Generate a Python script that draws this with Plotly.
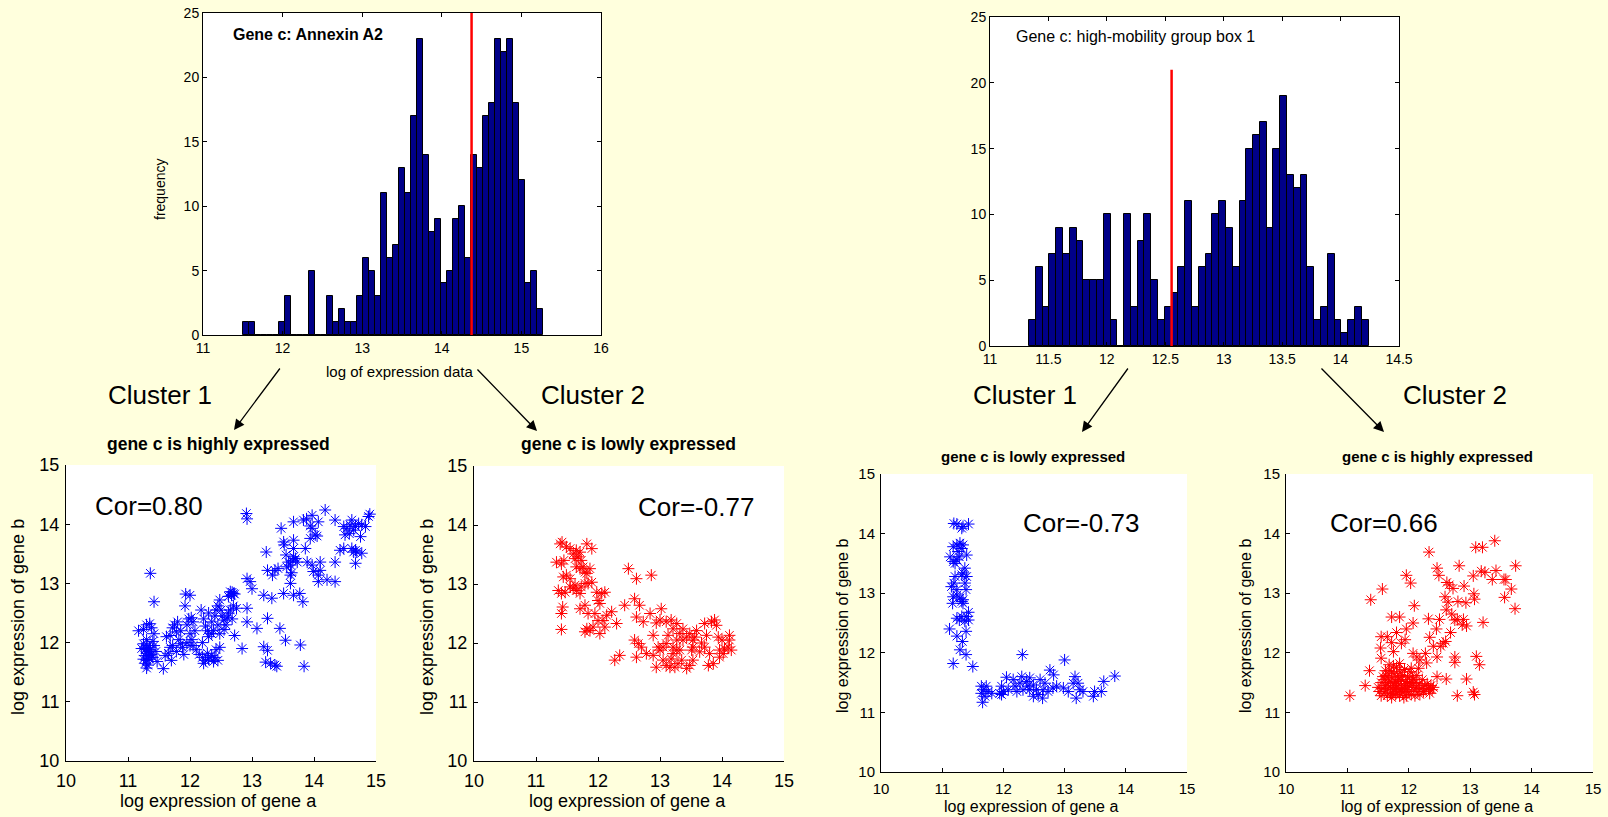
import plotly.graph_objects as go

# ---------------- data ----------------
hist1_start = 11.504
hist1_binw = 0.07546
hist1_counts = [1, 1, 0, 0, 0, 0, 1, 3, 0, 0,
                0, 5, 0, 0, 3, 1, 2, 1, 1, 3,
                6, 5, 3, 11, 6, 7, 13, 11, 17, 23,
                14, 8, 9, 4, 5, 9, 10, 6, 14, 13,
                17, 18, 23, 22, 23, 18, 12, 4, 5, 2]
hist1_split = 14.374

hist2_start = 11.334
hist2_binw = 0.0581
hist2_counts = [2, 6, 3, 7, 9, 7, 9, 8, 5, 5,
                5, 10, 2, 0, 10, 3, 8, 10, 5, 2,
                3, 4, 6, 11, 3, 6, 7, 10, 11, 9,
                6, 11, 15, 16, 17, 9, 15, 19, 13, 12,
                13, 6, 2, 3, 7, 2, 1, 2, 3, 2]
hist2_split = 12.554
hist2_split_top = 21

hist_titles = ["Gene c: Annexin A2", "Gene c: high-mobility group box 1"]
scatter_titles = ["gene c is highly expressed", "gene c is lowly expressed",
                  "gene c is lowly expressed", "gene c is highly expressed"]
cor_labels = ["Cor=0.80", "Cor=-0.77", "Cor=-0.73", "Cor=0.66"]
cluster_labels = ["Cluster 1", "Cluster 2", "Cluster 1", "Cluster 2"]

scatter1_pts = [
    (12.91, 14.18), (12.92, 14.09), (14.18, 14.24), (14.90, 14.17), (14.88, 14.13), (13.97, 14.15),
    (13.88, 14.09), (13.83, 14.07), (13.67, 14.04), (14.07, 14.04), (14.34, 14.07), (13.94, 13.97),
    (13.97, 13.93), (14.61, 14.07), (14.58, 13.99), (14.53, 13.93), (14.48, 13.96), (14.72, 14.01),
    (14.83, 13.96), (14.77, 13.99), (14.67, 13.96), (14.64, 13.90), (14.57, 13.84), (14.50, 13.82),
    (14.75, 13.79), (13.47, 13.93), (14.02, 13.82), (14.05, 13.80), (13.94, 13.76), (13.67, 13.73),
    (13.51, 13.70), (13.52, 13.65), (13.86, 13.59), (13.67, 13.59), (14.42, 13.56), (14.48, 13.59),
    (14.61, 13.59), (14.67, 13.56), (14.69, 13.53), (14.64, 13.53), (14.77, 13.51), (13.23, 13.53),
    (13.55, 13.48), (13.67, 13.45), (13.70, 13.42), (13.66, 13.39), (13.73, 13.36), (13.59, 13.36),
    (13.56, 13.28), (13.62, 13.31), (13.89, 13.36), (13.97, 13.31), (14.10, 13.36), (14.34, 13.36),
    (14.67, 13.34), (13.42, 13.25), (13.37, 13.22), (13.25, 13.22), (13.33, 13.14), (13.62, 13.14),
    (13.64, 13.18), (13.99, 13.20), (14.10, 13.22), (14.07, 13.14), (12.92, 13.08), (12.97, 13.03),
    (13.00, 12.91), (13.62, 13.00), (14.07, 13.03), (14.21, 13.06), (14.34, 13.03), (13.19, 12.80),
    (13.32, 12.75), (13.51, 12.83), (13.67, 12.80), (13.77, 12.83), (13.82, 12.69), (12.65, 12.86),
    (12.70, 12.83), (12.67, 12.80), (12.92, 12.58), (12.92, 12.35), (13.25, 12.41), (13.08, 12.24),
    (13.45, 12.24), (13.54, 12.04), (13.78, 11.96), (12.84, 11.90), (13.19, 11.93), (13.25, 11.87),
    (13.22, 11.67), (13.30, 11.65), (13.37, 11.62), (13.40, 11.60), (13.84, 11.60),
    (11.17, 12.20), (11.25, 12.22), (11.30, 12.30), (11.35, 12.32), (11.38, 12.25), (11.42, 12.15),
    (11.30, 12.05), (11.25, 11.98), (11.32, 11.95), (11.28, 11.88), (11.33, 11.85), (11.36, 11.88),
    (11.30, 11.82), (11.27, 11.78), (11.33, 11.78), (11.38, 11.80), (11.25, 11.72), (11.30, 11.70),
    (11.35, 11.72), (11.40, 11.75), (11.28, 11.65), (11.32, 11.62), (11.30, 11.57), (11.42, 11.95),
    (11.45, 11.85), (11.47, 11.68), (11.40, 12.02), (11.22, 11.90), (11.35, 11.92), (11.30, 11.90),
    (11.36, 13.17), (11.42, 12.69),
    (11.57, 11.56), (11.60, 11.78), (11.65, 11.82), (11.70, 11.70), (11.62, 12.10), (11.68, 12.12),
    (11.72, 12.25), (11.75, 12.30), (11.80, 12.35), (11.78, 12.18), (11.82, 12.05), (11.85, 11.98),
    (11.88, 11.92), (11.90, 11.80), (11.85, 12.20), (11.92, 12.62), (11.93, 12.82), (12.00, 12.80),
    (11.95, 12.30), (11.98, 12.40), (12.02, 12.42), (12.05, 12.35), (12.00, 12.15), (12.03, 12.05),
    (12.05, 11.95), (12.00, 11.95), (11.95, 12.00), (12.08, 12.20), (12.10, 11.88), (11.72, 11.95),
    (11.78, 11.85), (11.68, 11.92),
    (12.18, 12.55), (12.22, 12.40), (12.25, 12.28), (12.28, 12.20), (12.30, 12.10), (12.20, 12.00),
    (12.15, 11.80), (12.20, 11.75), (12.25, 11.70), (12.30, 11.72), (12.35, 11.78), (12.40, 11.75),
    (12.28, 11.82), (12.22, 11.65), (12.38, 11.68), (12.45, 11.70), (12.42, 11.88), (12.48, 11.92),
    (12.35, 12.35), (12.40, 12.45), (12.42, 12.55), (12.45, 12.62), (12.48, 12.72), (12.50, 12.55),
    (12.52, 12.45), (12.55, 12.38), (12.58, 12.30), (12.60, 12.42), (12.62, 12.50), (12.65, 12.55),
    (12.68, 12.40), (12.55, 12.22), (12.48, 12.15), (12.38, 12.20), (12.45, 12.30), (12.30, 12.50),
    (12.35, 12.15), (12.70, 12.62), (12.72, 12.12), (12.62, 12.78), (12.68, 12.85), (12.72, 12.82),
    (12.75, 12.58),
]

scatter2_pts = [
    (11.39, 13.68), (11.42, 13.71), (11.33, 13.37), (11.41, 13.34), (11.45, 13.40), (11.49, 13.63),
    (11.55, 13.60), (11.60, 13.51), (11.65, 13.57), (11.71, 13.54), (11.68, 13.46), (11.63, 13.43),
    (11.73, 13.40), (11.76, 13.29), (11.79, 13.20), (11.82, 13.18), (11.82, 13.68), (11.90, 13.60),
    (11.87, 13.26), (11.71, 13.26), (11.65, 13.29),
    (11.36, 12.89), (11.41, 12.84), (11.47, 12.86), (11.55, 12.95), (11.60, 12.92), (11.63, 12.98),
    (11.65, 12.89), (11.71, 12.84), (11.73, 12.95), (11.79, 13.01), (11.84, 13.01), (11.90, 13.03),
    (11.44, 13.12), (11.49, 13.15), (11.55, 13.09),
    (11.43, 12.61), (11.41, 12.50), (11.41, 12.23), (11.71, 12.58), (11.79, 12.64), (11.84, 12.50),
    (11.82, 12.24), (11.87, 12.21), (11.79, 12.19),
    (11.98, 12.86), (12.06, 12.84), (12.11, 12.86), (12.00, 12.72), (12.03, 12.67), (11.95, 12.50),
    (12.00, 12.38), (12.08, 12.38), (12.03, 12.16), (11.92, 12.27), (12.14, 12.47), (12.22, 12.53),
    (12.11, 12.27), (12.30, 12.33), (12.27, 11.71), (12.35, 11.79),
    (12.43, 12.64), (12.49, 13.26), (12.62, 13.09), (12.86, 13.15),
    (12.59, 12.75), (12.67, 12.64), (12.62, 12.44), (12.73, 12.36), (12.84, 12.50), (12.89, 12.13),
    (13.02, 12.58), (13.00, 12.39), (12.94, 12.34), (13.10, 12.36), (13.18, 12.39), (13.27, 12.33),
    (13.21, 12.24), (13.13, 12.13),
    (12.59, 12.05), (12.65, 11.99), (12.70, 11.93), (12.62, 11.76), (12.78, 11.82), (12.89, 11.79),
    (12.94, 11.59), (12.97, 11.93), (13.00, 11.88),
    (13.05, 11.71), (13.10, 11.62), (13.16, 11.59), (13.18, 11.73), (13.21, 11.82), (13.27, 11.88),
    (13.32, 11.88), (13.35, 11.71), (13.29, 11.65), (13.24, 11.59),
    (13.43, 11.57), (13.48, 11.62), (13.53, 11.71), (13.51, 11.88), (13.53, 12.05), (13.56, 12.10),
    (13.48, 12.16), (13.43, 12.10), (13.59, 12.21), (13.53, 11.93), (13.64, 11.85), (13.67, 12.00),
    (13.72, 12.33), (13.75, 12.13), (13.72, 11.93), (13.80, 11.82), (13.78, 11.62), (13.86, 11.65),
    (13.83, 12.36), (13.88, 12.39), (13.91, 12.30), (13.94, 12.10), (14.00, 12.05), (13.96, 11.88),
    (14.02, 11.82), (14.04, 11.90), (13.96, 11.76), (14.12, 12.13), (14.15, 11.88), (14.10, 11.93),
    (14.12, 12.05),
    (13.32, 12.16), (13.37, 12.24), (13.37, 12.05), (13.27, 12.05), (13.21, 11.93), (13.10, 11.99),
    (13.05, 11.93),
]

scatter3_pts = [
    (11.19, 14.17), (11.24, 14.16), (11.32, 14.09), (11.34, 14.12), (11.43, 14.16),
    (11.18, 13.78), (11.24, 13.81), (11.29, 13.84), (11.34, 13.81), (11.32, 13.75), (11.26, 13.70),
    (11.40, 13.64), (11.13, 13.61), (11.18, 13.53), (11.21, 13.50), (11.24, 13.56), (11.28, 13.61),
    (11.37, 13.42), (11.34, 13.34), (11.40, 13.28), (11.32, 13.31), (11.21, 13.28), (11.37, 13.17),
    (11.15, 13.11), (11.19, 13.17), (11.24, 13.06), (11.39, 13.06),
    (11.18, 12.94), (11.24, 12.97), (11.29, 12.92), (11.34, 12.89), (11.32, 12.86), (11.17, 12.83),
    (11.34, 12.83), (11.43, 12.68), (11.40, 12.61), (11.24, 12.58), (11.28, 12.55), (11.32, 12.61),
    (11.43, 12.55), (11.37, 12.53), (11.12, 12.40), (11.24, 12.28), (11.39, 12.36), (11.33, 12.19),
    (11.29, 12.05), (11.39, 11.97), (11.18, 11.82), (11.50, 11.77),
    (11.64, 11.44), (11.67, 11.38), (11.64, 11.32), (11.70, 11.27), (11.66, 11.17), (11.75, 11.35),
    (11.81, 11.32), (11.72, 11.44),
    (11.97, 11.44), (12.00, 11.35), (11.97, 11.30), (12.05, 11.59), (12.16, 11.55), (12.19, 11.44),
    (12.22, 11.35), (12.27, 11.49), (12.30, 11.60), (12.38, 11.52), (12.43, 11.58), (12.40, 11.44),
    (12.49, 11.46), (12.54, 11.38), (12.57, 11.30), (12.60, 11.55), (12.68, 11.49), (12.64, 11.24),
    (12.73, 11.35), (12.76, 11.71), (12.82, 11.63), (12.81, 11.41), (12.87, 11.44),
    (12.31, 11.97), (13.00, 11.88),
    (12.98, 11.41), (13.06, 11.35), (13.14, 11.49), (13.17, 11.60), (13.19, 11.24), (13.25, 11.38),
    (13.30, 11.35), (13.22, 11.49), (13.47, 11.27), (13.49, 11.35), (13.60, 11.35), (13.64, 11.52),
    (13.82, 11.61),
    (11.94, 11.32), (12.08, 11.38), (12.49, 11.27), (12.43, 11.38), (12.32, 11.38), (12.65, 11.38),
]

scatter4_pts = [
    (11.04, 11.28), (11.29, 11.45), (11.36, 11.70), (11.38, 12.89), (11.57, 13.07), (11.55, 12.27),
    (11.54, 12.08), (11.55, 11.91), (11.65, 12.27), (11.72, 12.60), (11.85, 12.60), (11.80, 12.34),
    (11.72, 12.17), (11.75, 12.02), (11.88, 12.16), (11.94, 12.22), (11.96, 12.40), (11.96, 13.30),
    (12.03, 13.17), (12.07, 12.50), (12.09, 12.79), (12.07, 11.99), (12.13, 11.93), (12.18, 11.88),
    (12.04, 11.74), (12.16, 11.74), (12.27, 11.99), (12.29, 11.83), (12.33, 13.69), (12.32, 12.57),
    (12.34, 12.26), (12.40, 12.11), (12.45, 12.40), (12.46, 13.42), (12.49, 13.30), (12.50, 12.56),
    (12.46, 11.93), (12.46, 11.60), (12.52, 12.11), (12.56, 12.16), (12.61, 11.56), (12.60, 12.19),
    (12.59, 12.94), (12.62, 13.18), (12.66, 13.14), (12.64, 12.85), (12.61, 12.72), (12.70, 12.65),
    (12.72, 13.08), (12.68, 12.34), (12.75, 12.55), (12.75, 11.93), (12.75, 11.84), (12.82, 13.46),
    (12.79, 12.56), (12.80, 12.86), (12.79, 11.28), (12.89, 12.56), (12.90, 13.12), (12.93, 12.84),
    (12.94, 12.45), (12.87, 12.47), (12.94, 11.56), (13.05, 13.29), (13.06, 12.99), (13.07, 12.90),
    (13.05, 11.34), (13.07, 11.30), (13.09, 13.77), (13.20, 13.77), (13.18, 13.37), (13.24, 13.35),
    (13.21, 12.51), (13.10, 11.94), (13.15, 11.80), (13.36, 13.23), (13.42, 13.38), (13.40, 13.88),
    (13.55, 13.23), (13.58, 13.23), (13.56, 12.93), (13.67, 13.07), (13.73, 12.74), (13.74, 13.46),
    (11.50, 11.42), (11.52, 11.35), (11.55, 11.50), (11.55, 11.28), (11.58, 11.40), (11.60, 11.55),
    (11.60, 11.32), (11.62, 11.45), (11.63, 11.62), (11.65, 11.38), (11.65, 11.28), (11.67, 11.50),
    (11.68, 11.70), (11.70, 11.42), (11.70, 11.33), (11.72, 11.58), (11.72, 11.25), (11.74, 11.48),
    (11.75, 11.38), (11.76, 11.65), (11.78, 11.30), (11.78, 11.52), (11.80, 11.42), (11.80, 11.75),
    (11.82, 11.60), (11.82, 11.35), (11.84, 11.48), (11.85, 11.28), (11.86, 11.68), (11.87, 11.40),
    (11.88, 11.55), (11.90, 11.33), (11.90, 11.62), (11.92, 11.45), (11.93, 11.72), (11.94, 11.38),
    (11.95, 11.52), (11.96, 11.28), (11.98, 11.42), (11.98, 11.60), (12.00, 11.35), (12.01, 11.50),
    (12.02, 11.68), (12.04, 11.30), (12.05, 11.45), (12.06, 11.58), (12.08, 11.38), (12.10, 11.50),
    (12.10, 11.28), (12.12, 11.42), (12.13, 11.62), (12.15, 11.35), (12.17, 11.48), (12.18, 11.30),
    (12.20, 11.40), (12.22, 11.55), (12.24, 11.35), (12.26, 11.45), (12.28, 11.38), (12.30, 11.48),
    (12.32, 11.40), (12.34, 11.32), (12.36, 11.45), (12.38, 11.38), (12.40, 11.42), (11.62, 11.70),
    (11.68, 11.80), (11.75, 11.78), (11.85, 11.82), (11.58, 11.60), (11.66, 11.58), (11.74, 11.32),
    (11.92, 11.25), (12.08, 11.55), (11.77, 11.45), (11.83, 11.55), (11.97, 11.48), (11.72, 11.68),
    (11.88, 11.38),
]

# ---------------- styling / layout helpers ----------------
W, H = 1608, 817
BG = "#FFFFDD"
FONT = "Liberation Sans, Arial, Helvetica, sans-serif"
BAR_COLOR = "#000088"


def dx(a, b):
    return [a / W, b / W]


def dy(top, bottom):
    return [1 - bottom / H, 1 - top / H]


def px(x):
    return x / W


def py(y):
    return 1 - y / H


fig = go.Figure()

# histograms
h1_centers = [hist1_start + (i + 0.5) * hist1_binw for i in range(len(hist1_counts))]
h2_centers = [hist2_start + (i + 0.5) * hist2_binw for i in range(len(hist2_counts))]

fig.add_trace(go.Bar(x=h1_centers, y=hist1_counts, width=hist1_binw,
                     marker=dict(color=BAR_COLOR, line=dict(color="black", width=1)),
                     xaxis="x", yaxis="y", showlegend=False))
fig.add_trace(go.Bar(x=h2_centers, y=hist2_counts, width=hist2_binw,
                     marker=dict(color=BAR_COLOR, line=dict(color="black", width=1)),
                     xaxis="x2", yaxis="y2", showlegend=False))

# split lines
fig.add_shape(type="line", xref="x", yref="y domain", x0=hist1_split, x1=hist1_split,
              y0=0, y1=1, line=dict(color="#FF0000", width=2.5))
fig.add_shape(type="line", xref="x2", yref="y2", x0=hist2_split, x1=hist2_split,
              y0=0, y1=hist2_split_top, line=dict(color="#FF0000", width=2.5))

# scatters
scatter_sets = [(scatter1_pts, "#0000FF"), (scatter2_pts, "#FF0000"),
                (scatter3_pts, "#0000FF"), (scatter4_pts, "#FF0000")]
for k, (pts, col) in enumerate(scatter_sets):
    xs = [p[0] for p in pts]
    ys = [p[1] for p in pts]
    fig.add_trace(go.Scatter(x=xs, y=ys, mode="markers",
                             marker=dict(symbol="asterisk-open", size=10, color=col,
                                         line=dict(color=col, width=1)),
                             xaxis=f"x{k + 3}", yaxis=f"y{k + 3}", showlegend=False))


def hist_axis(domain, rng, dtick, anchor, fsize):
    return dict(domain=domain, range=rng, dtick=dtick, anchor=anchor, automargin=False,
                showline=True, mirror="allticks", linecolor="black", linewidth=1,
                ticks="inside", ticklen=4, tickcolor="black", showgrid=False,
                zeroline=False, tickfont=dict(family=FONT, size=fsize, color="black"))


def sc_axis(domain, anchor, fsize, standoff):
    return dict(domain=domain, range=[10, 15], tickvals=[10, 11, 12, 13, 14, 15], anchor=anchor,
                automargin=False, showline=True, mirror=False, linecolor="black", linewidth=1,
                ticks="inside", ticklen=4, tickcolor="black", showgrid=False,
                ticklabelstandoff=standoff,
                zeroline=False, tickfont=dict(family=FONT, size=fsize, color="black"))


layout = dict(
    width=W, height=H, margin=dict(l=0, r=0, t=0, b=0, autoexpand=False),
    paper_bgcolor=BG, plot_bgcolor="white", showlegend=False, bargap=0,
    xaxis=hist_axis(dx(203, 601), [11, 16], 1, "y", 14),
    yaxis=hist_axis(dy(13, 335), [0, 25], 5, "x", 14),
    xaxis2=hist_axis(dx(990, 1399), [11, 14.5], 0.5, "y2", 14),
    yaxis2=hist_axis(dy(17, 346), [0, 25], 5, "x2", 14),
    xaxis3=sc_axis(dx(66, 376), "y3", 18, 3), yaxis3=sc_axis(dy(465, 761), "x3", 18, 2),
    xaxis4=sc_axis(dx(474, 784), "y4", 18, 3), yaxis4=sc_axis(dy(466, 761), "x4", 18, 2),
    xaxis5=sc_axis(dx(881, 1187), "y5", 15, 3), yaxis5=sc_axis(dy(474, 772), "x5", 15, 2),
    xaxis6=sc_axis(dx(1286, 1593), "y6", 15, 3), yaxis6=sc_axis(dy(474, 772), "x6", 15, 2),
)
fig.update_layout(**layout)

ann = []


def text_px(t, x, y, size, bold=False, angle=0, xanchor="center"):
    ann.append(dict(text=f"<b>{t}</b>" if bold else t, x=px(x), y=py(y), xref="paper", yref="paper",
                    showarrow=False, xanchor=xanchor, yanchor="middle", textangle=angle,
                    font=dict(family=FONT, size=size, color="black")))


# histogram texts
ann.append(dict(text=f"<b>{hist_titles[0]}</b>", x=11.35, y=23.3, xref="x", yref="y",
                showarrow=False, xanchor="left", yanchor="middle",
                font=dict(family=FONT, size=16, color="black")))
ann.append(dict(text=hist_titles[1], x=11.205, y=23.5, xref="x2", yref="y2",
                showarrow=False, xanchor="left", yanchor="middle",
                font=dict(family=FONT, size=16, color="black")))
text_px("frequency", 160, 190, 14, angle=-90)
text_px("log of expression data", 399, 371, 15)

# cluster labels
for lab, (cx, cy) in zip(cluster_labels, [(160, 395), (593, 395), (1025, 395), (1455, 395)]):
    text_px(lab, cx, cy, 26)

# arrows
for (x0, y0), (x1, y1) in [((281, 367), (234, 430)), ((476, 368), (537, 431)),
                           ((1129, 367), (1082, 432)), ((1320, 367), (1384, 432))]:
    ann.append(dict(text="", x=px(x1), y=py(y1), xref="paper", yref="paper",
                    ax=x0 - x1, ay=y0 - y1, axref="pixel", ayref="pixel",
                    showarrow=True, arrowhead=2, arrowsize=1.6, arrowwidth=1.3,
                    arrowcolor="black", standoff=0))

# scatter titles
title_pos = [(218, 444, 17.5), (628, 444, 17.5), (1033, 456, 15), (1437, 456, 15)]
for t, (x, y, s) in zip(scatter_titles, title_pos):
    text_px(t, x, y, s, bold=True)

# correlation labels (data coords)
cor_pos = [(10.43, 14.31), (12.62, 14.31), (12.28, 14.18), (10.68, 14.18)]
for k, (t, (x, y)) in enumerate(zip(cor_labels, cor_pos)):
    ann.append(dict(text=t, x=x, y=y, xref=f"x{k + 3}", yref=f"y{k + 3}", showarrow=False,
                    xanchor="left", yanchor="middle",
                    font=dict(family=FONT, size=26, color="black")))

# axis titles
text_px("log expression of gene b", 18, 617, 18, angle=-90)
text_px("log expression of gene a", 218, 801, 18)
text_px("log expression of gene b", 427, 617, 18, angle=-90)
text_px("log expression of gene a", 627, 801, 18)
text_px("log expression of gene b", 842, 626, 16, angle=-90)
text_px("log expression of gene a", 1031, 806, 16)
text_px("log expression of gene b", 1245, 626, 16, angle=-90)
text_px("log of expression of gene a", 1437, 806, 16)

fig.update_layout(annotations=ann)

fig.write_html("out.html", config={"displayModeBar": False},
               post_script="document.body.style.margin='0';document.body.style.overflow='hidden';"
                           "document.body.style.background='#FFFFDD';")
